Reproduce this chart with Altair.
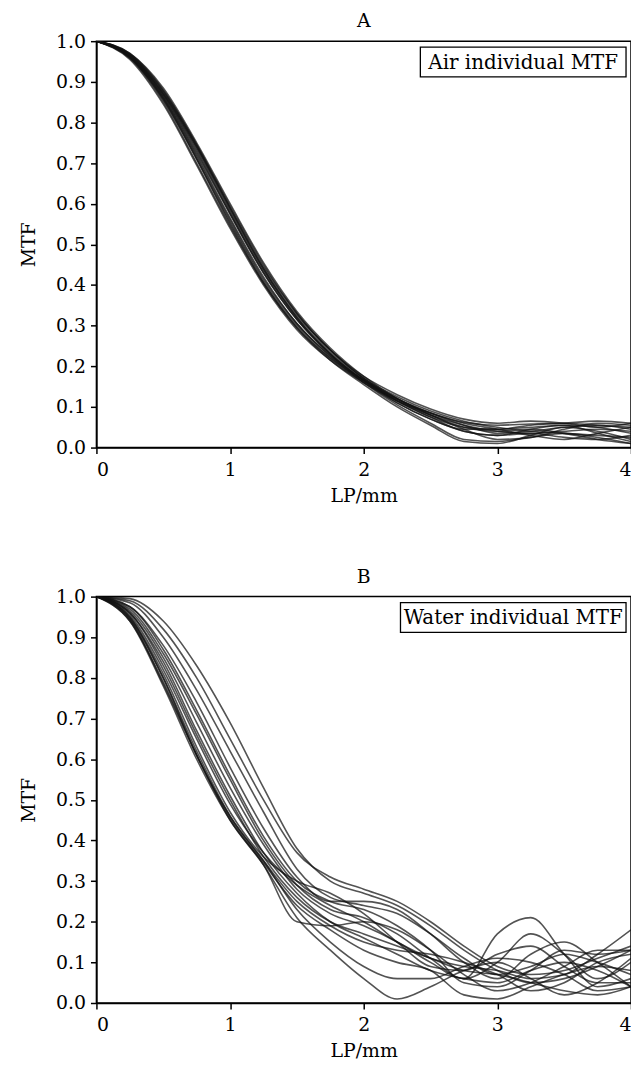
import altair as alt
import pandas as pd

LP = [0.0, 0.25, 0.5, 0.75, 1.0, 1.25, 1.5, 1.75, 2.0, 2.25, 2.5, 2.75, 3.0, 3.25, 3.5, 3.75, 4.0]

AIR = [
    [1, .967, .875, .740, .590, .445, .330, .240, .170, .120, .085, .062, .055, .058, .060, .055, .050],
    [1, .963, .865, .725, .575, .430, .315, .230, .165, .115, .080, .055, .040, .035, .040, .045, .040],
    [1, .960, .855, .710, .555, .410, .300, .220, .160, .110, .070, .040, .030, .035, .025, .020, .030],
    [1, .970, .885, .750, .600, .455, .335, .245, .175, .120, .080, .045, .020, .025, .045, .060, .055],
    [1, .958, .850, .700, .545, .405, .295, .215, .155, .100, .055, .015, .010, .030, .050, .040, .020],
    [1, .965, .870, .735, .580, .435, .320, .235, .170, .125, .090, .065, .050, .040, .035, .030, .025],
    [1, .962, .862, .720, .565, .420, .305, .225, .160, .105, .060, .020, .015, .025, .035, .025, .010],
    [1, .968, .878, .745, .595, .450, .330, .240, .175, .130, .095, .070, .060, .065, .060, .050, .060],
    [1, .955, .845, .695, .540, .400, .290, .215, .160, .115, .075, .050, .045, .050, .055, .035, .015],
    [1, .966, .872, .740, .585, .440, .320, .230, .165, .115, .085, .060, .045, .030, .020, .035, .050],
    [1, .961, .860, .715, .560, .415, .305, .225, .165, .120, .085, .055, .035, .040, .050, .055, .045],
    [1, .970, .880, .745, .590, .440, .325, .240, .170, .115, .075, .040, .030, .045, .055, .050, .035],
    [1, .959, .857, .710, .550, .405, .295, .220, .165, .120, .080, .050, .040, .045, .035, .020, .010],
    [1, .964, .868, .730, .575, .430, .315, .230, .165, .110, .070, .045, .045, .055, .060, .065, .060],
]

WATER = [
    [1, .995, .940, .830, .690, .530, .380, .300, .270, .240, .190, .130, .080, .050, .060, .090, .130],
    [1, .990, .920, .800, .650, .500, .370, .310, .280, .250, .200, .140, .090, .070, .080, .110, .140],
    [1, .985, .900, .770, .620, .470, .330, .260, .240, .220, .170, .110, .070, .090, .120, .100, .070],
    [1, .975, .880, .740, .580, .430, .310, .250, .250, .230, .170, .100, .060, .120, .150, .100, .040],
    [1, .970, .860, .710, .550, .400, .290, .230, .210, .170, .110, .060, .100, .170, .120, .060, .100],
    [1, .965, .850, .690, .530, .390, .280, .220, .190, .150, .100, .060, .170, .210, .120, .040, .060],
    [1, .960, .840, .670, .510, .370, .270, .200, .160, .120, .080, .060, .050, .080, .100, .080, .040],
    [1, .955, .820, .650, .490, .370, .290, .240, .200, .150, .110, .090, .080, .060, .070, .120, .180],
    [1, .950, .810, .630, .470, .360, .300, .270, .220, .150, .090, .080, .120, .140, .090, .050, .050],
    [1, .945, .800, .610, .460, .350, .250, .190, .150, .130, .120, .100, .070, .030, .050, .100, .120],
    [1, .940, .790, .610, .450, .340, .210, .130, .060, .010, .040, .080, .100, .060, .020, .050, .110],
    [1, .940, .780, .600, .450, .340, .200, .190, .200, .180, .130, .070, .030, .050, .090, .130, .130],
    [1, .945, .785, .610, .455, .345, .240, .180, .130, .100, .080, .020, .010, .040, .070, .090, .080],
    [1, .950, .800, .620, .460, .350, .230, .150, .090, .060, .060, .090, .110, .100, .070, .030, .040],
    [1, .960, .830, .660, .500, .360, .260, .200, .170, .140, .110, .080, .070, .050, .030, .020, .040],
    [1, .975, .870, .720, .560, .410, .300, .250, .230, .190, .130, .050, .040, .080, .130, .120, .130],
]

TITLES = ["A", "B"]
LABELS = ["Air individual MTF", "Water individual MTF"]
SERIES = [AIR, WATER]

FONT = "DejaVu Serif"
FS = 19
W, H = 538, 409
BOX_W = [207, 227]


def panel(title, label, curves, box_w):
    rows = []
    for i, c in enumerate(curves):
        for x, v in zip(LP, c):
            rows.append({"lp": x, "mtf": v, "curve": i})
    df = pd.DataFrame(rows)
    lines = (
        alt.Chart(df)
        .mark_line(interpolate="monotone", strokeWidth=1.6, opacity=0.72, clip=True, color="#111111")
        .encode(
            x=alt.X("lp:Q", scale=alt.Scale(domain=[0, 4], nice=False),
                    axis=alt.Axis(values=[0, 1, 2, 3, 4], format="d", title="LP/mm",
                                  labelPadding=7, titlePadding=7)),
            y=alt.Y("mtf:Q", scale=alt.Scale(domain=[0, 1], nice=False),
                    axis=alt.Axis(values=[i / 10 for i in range(11)], format=".1f", title="MTF",
                                  labelPadding=5, titlePadding=17)),
            detail="curve:N",
        )
    )
    lab = pd.DataFrame({"label": [label]})
    box = alt.Chart(lab).mark_rect(fill="white", stroke="black", strokeWidth=1.3).encode(
        x=alt.value(W - 5 - box_w), x2=alt.value(W - 5), y=alt.value(6), y2=alt.value(36)
    )
    txt = alt.Chart(lab).mark_text(font=FONT, fontSize=20, color="black", align="center",
                                   baseline="middle").encode(
        x=alt.value(W - 5 - box_w / 2), y=alt.value(22), text="label:N"
    )
    return alt.layer(lines, box, txt).properties(
        width=W, height=H,
        title=alt.TitleParams(title, font=FONT, fontSize=FS, fontWeight="normal", offset=1),
    )


chart = (
    alt.vconcat(*[panel(t, l, c, b) for t, l, c, b in zip(TITLES, LABELS, SERIES, BOX_W)], spacing=61)
    .properties(padding={"left": 11, "top": 0, "right": -2, "bottom": 0})
    .configure_view(stroke="black", strokeWidth=1.5)
    .configure_axis(labelFont=FONT, labelFontSize=FS, labelColor="black",
                    titleFont=FONT, titleFontSize=FS, titleFontWeight="normal", titleColor="black",
                    domainColor="black", domainWidth=1.5, tickColor="black", tickWidth=1.5,
                    tickSize=6, grid=False)
)

chart.save("out.html", embed_options={"renderer": "svg", "actions": False})
